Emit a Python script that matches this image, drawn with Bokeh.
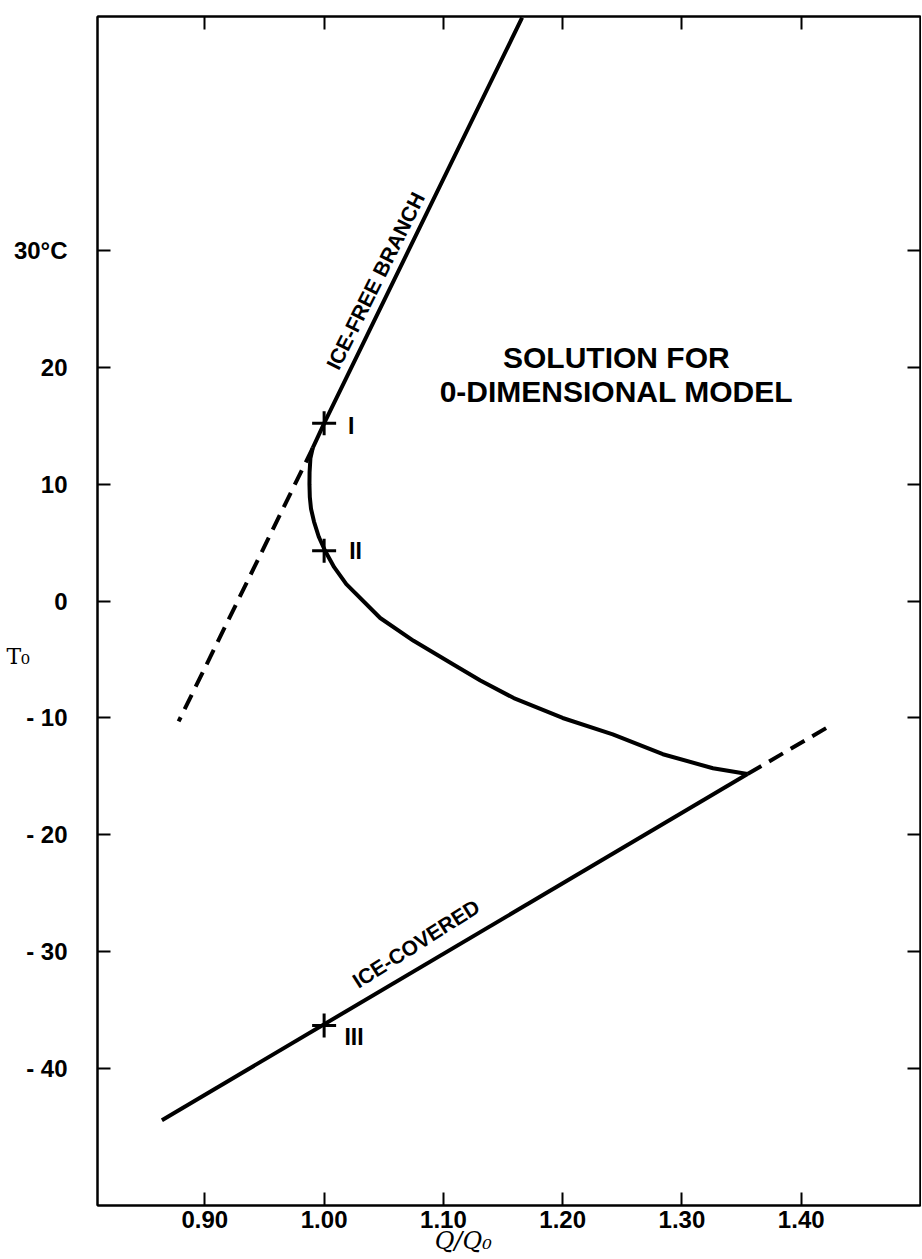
from bokeh.plotting import figure
from bokeh.models import Range1d, LinearAxis, FixedTicker, Label, CustomJSTickFormatter
from bokeh.core.properties import value
from bokeh.embed import file_html
from bokeh.resources import INLINE

# ---- data ----
x_ticks = [0.90, 1.00, 1.10, 1.20, 1.30, 1.40]
x_tick_labels = ["0.90", "1.00", "1.10", "1.20", "1.30", "1.40"]
y_ticks = [30, 20, 10, 0, -10, -20, -30, -40]
y_tick_labels = ["30°C", "20", "10", "0", "- 10", "- 20", "- 30", "- 40"]

# ice-free branch (solid)
ice_free_q = [0.9905, 1.000, 1.166]
ice_free_t = [13.1, 15.2, 49.9]
# ice-free branch extension (dashed)
ice_free_ext_q = [0.9905, 0.878]
ice_free_ext_t = [13.1, -10.3]
# intermediate (unstable) branch
middle_q = [0.9905, 0.9885, 0.9878, 0.9877, 0.9880, 0.9890, 0.9915, 0.9955, 1.0008,
            1.0084, 1.0186, 1.047, 1.075, 1.108, 1.131, 1.159, 1.200, 1.242, 1.284, 1.326, 1.355]
middle_t = [13.1, 12.2, 11.0, 10.0, 8.9, 7.9, 6.8, 5.5, 4.3,
            2.9, 1.45, -1.45, -3.4, -5.4, -6.8, -8.3, -10.0, -11.4, -13.1, -14.3, -14.8]
# ice-covered branch (solid) and extension (dashed)
ice_cov_q = [0.864, 1.355]
ice_cov_t = [-44.4, -14.8]
ice_cov_ext_q = [1.355, 1.427]
ice_cov_ext_t = [-14.8, -10.5]
# equilibrium points at present solar constant
eq_q = [1.00, 1.00, 1.00]
eq_t = [15.2, 4.3, -36.3]
eq_names = ["I", "II", "III"]
eq_label_q = [1.020, 1.021, 1.017]
eq_label_t = [15.0, 4.3, -37.3]

FONT = "Liberation Sans"

p = figure(width=921, height=1259,
           x_range=Range1d(0.81, 1.50), y_range=Range1d(-51.7, 50),
           output_backend="svg", toolbar_location=None,
           min_border_left=97, min_border_right=1, min_border_top=16, min_border_bottom=54)
p.grid.visible = False
p.outline_line_color = "black"
p.outline_line_width = 2
p.background_fill_color = "white"
p.border_fill_color = "white"

def style_axis(ax):
    ax.axis_line_width = 2
    ax.axis_line_color = "black"
    ax.major_tick_in = 13
    ax.major_tick_out = 0
    ax.major_tick_line_width = 2
    ax.minor_tick_in = 0
    ax.minor_tick_out = 0
    ax.major_label_text_font = FONT
    ax.major_label_text_font_style = "bold"
    ax.major_label_text_font_size = "24px"
    ax.major_label_text_color = "black"

NBSP = "\u00a0"

xa = p.xaxis[0]
xa.ticker = FixedTicker(ticks=x_ticks)
xa.major_label_overrides = dict(zip(x_ticks, x_tick_labels))
xa.major_label_standoff = 5
style_axis(xa)
# trailing non-breaking spaces move the visible title left, under 1.10
xa.axis_label = "Q/Q₀" + NBSP * 12
xa.axis_label_text_font = "DejaVu Serif"
xa.axis_label_text_font_style = "italic"
xa.axis_label_text_font_size = "24px"
xa.axis_label_text_color = "black"
xa.axis_label_standoff = -4

ya = p.yaxis[0]
ya.ticker = FixedTicker(ticks=y_ticks)
ya.major_label_overrides = dict(zip(y_ticks, y_tick_labels))
ya.major_label_standoff = 30
style_axis(ya)
# leading empty lines move the visible title down a little, as in the reference
ya.axis_label = "\n\n\nT₀"
ya.axis_label_orientation = "horizontal"
ya.axis_label_text_font = "DejaVu Serif"
ya.axis_label_text_font_style = "normal"
ya.axis_label_text_font_size = "22px"
ya.axis_label_text_color = "black"
ya.axis_label_standoff = -19

blank = CustomJSTickFormatter(code="return ''")
top = LinearAxis(ticker=FixedTicker(ticks=x_ticks), formatter=blank)
style_axis(top)
top.major_label_text_font_size = "0px"
top.major_label_standoff = 0
p.add_layout(top, "above")

right = LinearAxis(ticker=FixedTicker(ticks=y_ticks), formatter=blank)
style_axis(right)
right.major_label_text_font_size = "0px"
right.major_label_standoff = 0
p.add_layout(right, "right")

LW = 4
p.line(ice_free_q, ice_free_t, line_color="black", line_width=LW)
p.line(ice_free_ext_q, ice_free_ext_t, line_color="black", line_width=LW, line_dash="16 9")
p.line(middle_q, middle_t, line_color="black", line_width=LW, line_join="round")
p.line(ice_cov_q, ice_cov_t, line_color="black", line_width=LW)
p.line(ice_cov_ext_q, ice_cov_ext_t, line_color="black", line_width=LW, line_dash="16 9")

p.scatter(eq_q, eq_t, marker="cross", size=24, line_color="black", line_width=3)
p.text(eq_label_q, eq_label_t, text=eq_names, text_font=value(FONT), text_font_style="bold",
       text_font_size="23px", text_align="left", text_baseline="middle", text_color="black")

def add_text(x, y, t, size, angle=0.0):
    p.add_layout(Label(x=x, y=y, text=t, text_font=FONT, text_font_style="bold",
                       text_font_size=size, text_align="center", text_baseline="middle",
                       angle=angle, angle_units="deg", text_color="black"))

add_text(1.043, 27.4, "ICE-FREE BRANCH", "21px", 63.5)
add_text(1.077, -29.3, "ICE-COVERED", "21px", 32.5)
add_text(1.245, 20.8, "SOLUTION FOR", "30px")
add_text(1.245, 17.9, "0-DIMENSIONAL MODEL", "30px")

open("out.html", "w").write(file_html(p, INLINE))
